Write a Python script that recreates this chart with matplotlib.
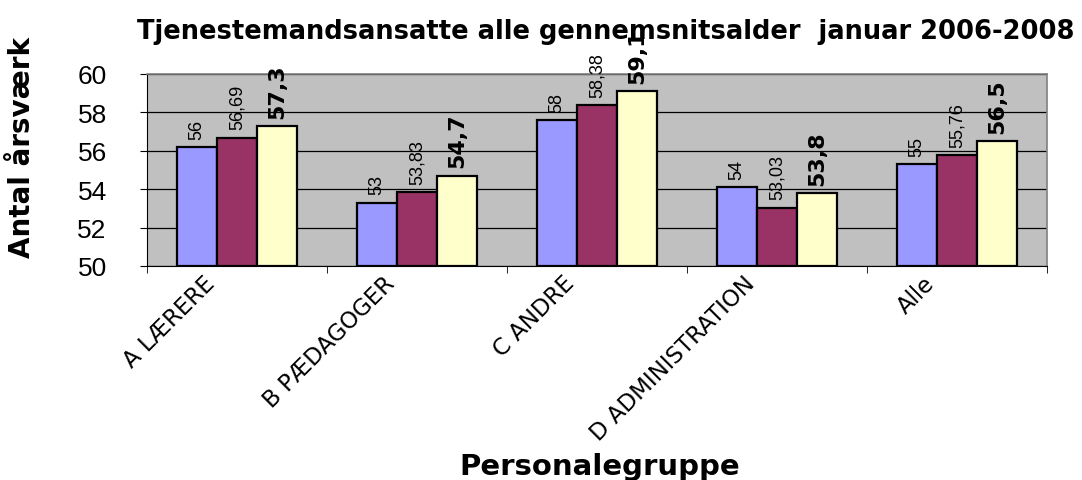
import matplotlib
matplotlib.use('Agg')
import matplotlib.pyplot as plt
import numpy as np
from matplotlib.transforms import ScaledTranslation

categories = ["A LÆRERE", "B PÆDAGOGER", "C ANDRE", "D ADMINISTRATION", "Alle"]
years = ["2006", "2007", "2008"]
v2006 = [56.2, 53.3, 57.6, 54.1, 55.3]
v2007 = [56.69, 53.83, 58.38, 53.03, 55.76]
v2008 = [57.3, 54.7, 59.1, 53.8, 56.5]
yticks = [50, 52, 54, 56, 58, 60]

title = "Tjenestemandsansatte alle gennemsnitsalder  januar 2006-2008"
ylabel = "Antal årsværk"
xlabel = "Personalegruppe"

plt.rcParams['font.family'] = ['Liberation Sans', 'DejaVu Sans']

fig = plt.figure(figsize=(10.82, 4.81), dpi=100)
ax = fig.add_axes([147/1082, 1-267/481, 900/1082, 192/481])
ax.set_facecolor('#C0C0C0')

x = np.arange(len(categories))
w = 0.222
colors = ['#9999FF', '#993366', '#FFFFCC']
series = [v2006, v2007, v2008]
fmts = [lambda v: f"{v:.0f}", lambda v: f"{v:.2f}".replace('.', ','), lambda v: f"{v:.1f}".replace('.', ',')]

ax.set_ylim(50, 60)
ax.set_xlim(-0.5, len(categories) - 0.5)
ax.set_yticks(yticks)
ax.yaxis.grid(True, color='black', linewidth=0.9)
ax.set_axisbelow(True)

for i, (vals, c, f) in enumerate(zip(series, colors, fmts)):
    pos = x + (i - 1) * w
    ax.bar(pos, [v - 50 for v in vals], width=w, bottom=50, color=c,
           edgecolor='black', linewidth=1.6, zorder=3)
    for p, v in zip(pos, vals):
        if i < 2:
            ax.annotate(f(v), (p, v), xytext=(0, 6), textcoords='offset points',
                        rotation=90, ha='center', va='bottom', fontsize=13,
                        family=['Liberation Sans Narrow', 'Liberation Sans'],
                        zorder=4, annotation_clip=False)
        else:
            ax.annotate(f(v), (p, v), xytext=(0, 6), textcoords='offset points',
                        rotation=90, ha='center', va='bottom', fontsize=16,
                        fontweight='bold', family=['DejaVu Sans'],
                        zorder=4, annotation_clip=False)

for s in ['top', 'right']:
    ax.spines[s].set_color('#808080')
    ax.spines[s].set_linewidth(1.2)
ax.spines['left'].set_color('black')
ax.spines['bottom'].set_color('black')

ax.tick_params(axis='y', labelsize=19, length=5, direction='out', pad=24)
ax.set_xticks(x)
ax.set_xticklabels(categories, rotation=45, ha='right', rotation_mode='anchor',
                   va='top', fontsize=16.5, family=['DejaVu Sans'])
ax.tick_params(axis='x', which='major', length=0, pad=0)
ax.set_xticks(np.arange(len(categories) + 1) - 0.5, minor=True)
ax.tick_params(axis='x', which='minor', length=5, direction='out')
for lbl in ax.get_xticklabels():
    lbl.set_transform(lbl.get_transform() + ScaledTranslation(-34/100, -5/100, fig.dpi_scale_trans))

fig.text(606/1082, 1-32/481, title, ha='center', va='center', fontsize=18.5,
         fontweight='bold', family=['DejaVu Sans'])
fig.text(22/1082, 1-147/481, ylabel, ha='center', va='center', rotation=90,
         fontsize=20, fontweight='bold', family=['DejaVu Sans'])
fig.text(600/1082, 1-467/481, xlabel, ha='center', va='center', fontsize=21,
         fontweight='bold', family=['DejaVu Sans'])

fig.savefig('out.png', dpi=100)
